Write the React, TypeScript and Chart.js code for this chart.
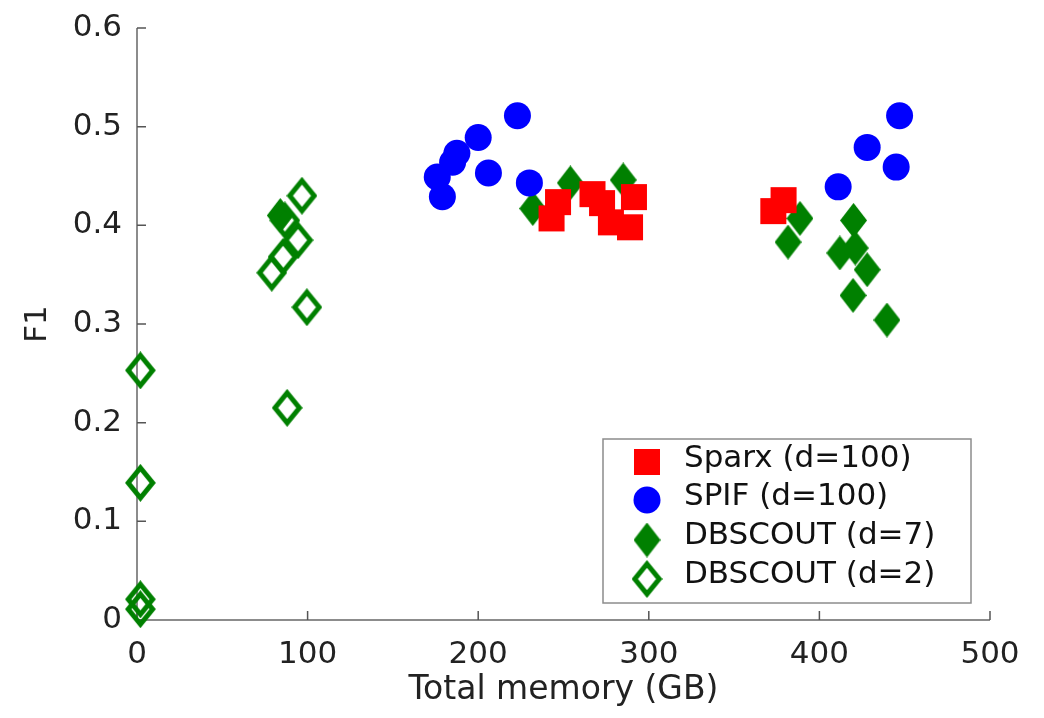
import React, { useEffect, useRef } from "react";
import { Chart, registerables } from "chart.js";

Chart.register(...registerables);

// ---- data ----
const sparxX = [246.8, 243, 267, 272.6, 277.8, 291.3, 289, 379, 373];
const sparxY = [0.4235, 0.407, 0.4316, 0.4225, 0.403, 0.4286, 0.398, 0.4255, 0.4144];

const spifX = [223, 200, 187.5, 185, 176, 179, 206, 230, 447, 428, 445, 411];
const spifY = [0.511, 0.489, 0.473, 0.464, 0.449, 0.429, 0.453, 0.443, 0.511, 0.479, 0.459, 0.439];

const dbs7X = [84, 254, 285, 232, 420, 388.6, 381.6, 412, 421, 428, 419.7, 439.6];
const dbs7Y = [0.41, 0.443, 0.446, 0.417, 0.405, 0.407, 0.383, 0.372, 0.377, 0.355, 0.329, 0.304];

const dbs2X = [96.7, 86.7, 94.4, 85.6, 79, 99.6, 88, 2, 2, 2, 2];
const dbs2Y = [0.43, 0.405, 0.385, 0.368, 0.352, 0.317, 0.215, 0.253, 0.139, 0.021, 0.011];

const seriesLabels = ["Sparx (d=100)", "SPIF (d=100)", "DBSCOUT (d=7)", "DBSCOUT (d=2)"];
const xTicks = [0, 100, 200, 300, 400, 500];
const yTicks = [0, 0.1, 0.2, 0.3, 0.4, 0.5, 0.6];
const xTitle = "Total memory (GB)";
const yTitle = "F1";

const RED = "#ff0000";
const BLUE = "#0000ff";
const GREEN = "#008000";
const FONT = "'DejaVu Sans', 'Liberation Sans', sans-serif";

function makeDiamond(filled: boolean): HTMLCanvasElement {
  const W = filled ? 27 : 31;
  const H = filled ? 35 : 38;
  const c = document.createElement("canvas");
  c.width = W;
  c.height = H;
  const ctx = c.getContext("2d")!;
  if (filled) {
    ctx.beginPath();
    ctx.moveTo(W / 2, 0);
    ctx.lineTo(W, H / 2);
    ctx.lineTo(W / 2, H);
    ctx.lineTo(0, H / 2);
    ctx.closePath();
    ctx.fillStyle = GREEN;
    ctx.fill();
  } else {
    const lw = 5;
    const ix = 3.3;
    const iy = 4;
    ctx.beginPath();
    ctx.moveTo(W / 2, iy);
    ctx.lineTo(W - ix, H / 2);
    ctx.lineTo(W / 2, H - iy);
    ctx.lineTo(ix, H / 2);
    ctx.closePath();
    ctx.lineWidth = lw;
    ctx.lineJoin = "miter";
    ctx.strokeStyle = GREEN;
    ctx.stroke();
  }
  return c;
}

function toPoints(xs: number[], ys: number[]) {
  return xs.map((x, i) => ({ x, y: ys[i] }));
}

export default function App() {
  const ref = useRef<HTMLCanvasElement | null>(null);

  useEffect(() => {
    const canvas = ref.current;
    if (!canvas) return;
    const filledDiamond = makeDiamond(true);
    const openDiamond = makeDiamond(false);

    const axesPlugin = {
      id: "matlabAxes",
      beforeDatasetsDraw(chart: any) {
        const ctx = chart.ctx;
        const xs = chart.scales.x;
        const ys = chart.scales.y;
        const x0 = xs.getPixelForValue(0);
        const y0 = ys.getPixelForValue(0);
        ctx.save();
        ctx.strokeStyle = "#8c8c8c";
        ctx.lineWidth = 2;
        ctx.beginPath();
        ctx.moveTo(x0, ys.getPixelForValue(0.6));
        ctx.lineTo(x0, y0);
        ctx.lineTo(xs.getPixelForValue(500), y0);
        ctx.stroke();
        ctx.lineWidth = 1.5;
        ctx.strokeStyle = "#555";
        const tl = 9;
        ctx.beginPath();
        xTicks.forEach((v) => {
          const px = xs.getPixelForValue(v);
          ctx.moveTo(px, y0);
          ctx.lineTo(px, y0 - tl);
        });
        yTicks.forEach((v) => {
          const py = ys.getPixelForValue(v);
          ctx.moveTo(x0, py);
          ctx.lineTo(x0 + tl, py);
        });
        ctx.stroke();
        ctx.restore();
      },
    };

    const legendPlugin = {
      id: "boxLegend",
      afterDraw(chart: any) {
        const ctx = chart.ctx;
        const left = 603;
        const top = 439;
        const w = 368;
        const h = 164;
        ctx.save();
        ctx.fillStyle = "#ffffff";
        ctx.fillRect(left, top, w, h);
        ctx.strokeStyle = "#8c8c8c";
        ctx.lineWidth = 1.5;
        ctx.strokeRect(left, top, w, h);
        const rows = [459, 497, 536, 575];
        const mx = 647;
        ctx.fillStyle = RED;
        ctx.fillRect(mx - 13, rows[0] - 13 + 3, 26, 26);
        ctx.fillStyle = BLUE;
        ctx.beginPath();
        ctx.arc(mx, rows[1] + 3, 13.5, 0, Math.PI * 2);
        ctx.fill();
        ctx.drawImage(filledDiamond, mx - filledDiamond.width / 2, rows[2] + 4 - filledDiamond.height / 2);
        ctx.drawImage(openDiamond, mx - openDiamond.width / 2, rows[3] + 4 - openDiamond.height / 2);
        ctx.fillStyle = "#111";
        ctx.font = `31px ${FONT}`;
        ctx.textBaseline = "middle";
        ctx.textAlign = "left";
        seriesLabels.forEach((t, i) => ctx.fillText(t, 684, rows[i]));
        ctx.restore();
      },
    };

    const chart = new Chart(canvas, {
      type: "scatter",
      data: {
        datasets: [
          {
            label: seriesLabels[0],
            data: toPoints(sparxX, sparxY),
            pointStyle: "rect",
            pointRadius: 18.4,
            backgroundColor: RED,
            borderColor: RED,
            borderWidth: 0,
            order: 0,
            clip: false as any,
          },
          {
            label: seriesLabels[1],
            data: toPoints(spifX, spifY),
            pointStyle: "circle",
            pointRadius: 13.5,
            backgroundColor: BLUE,
            borderColor: BLUE,
            borderWidth: 0,
            order: 1,
            clip: false as any,
          },
          {
            label: seriesLabels[2],
            data: toPoints(dbs7X, dbs7Y),
            pointStyle: filledDiamond as any,
            pointRadius: 13,
            backgroundColor: GREEN,
            borderColor: GREEN,
            order: 3,
            clip: false as any,
          },
          {
            label: seriesLabels[3],
            data: toPoints(dbs2X, dbs2Y),
            pointStyle: openDiamond as any,
            pointRadius: 13,
            backgroundColor: GREEN,
            borderColor: GREEN,
            order: 2,
            clip: false as any,
          },
        ],
      },
      options: {
        animation: false,
        responsive: false,
        events: [],
        layout: { padding: { left: 0, right: 54, top: 28, bottom: 0 } },
        plugins: {
          legend: { display: false },
          tooltip: { enabled: false },
        },
        scales: {
          x: {
            type: "linear",
            min: 0,
            max: 500,
            afterBuildTicks: (s: any) => {
              s.ticks = xTicks.map((v) => ({ value: v }));
            },
            afterFit: (s: any) => {
              s.height = 98;
            },
            grid: { display: false, drawTicks: false },
            border: { display: false },
            ticks: {
              padding: 16,
              color: "#222",
              font: { family: FONT, size: 31 },
              maxRotation: 0,
              callback: (v: any) => String(v),
            },
            title: {
              display: true,
              text: xTitle,
              color: "#222",
              font: { family: FONT, size: 33, lineHeight: 1.2 },
              padding: { top: 0, bottom: 8 },
            },
          },
          y: {
            type: "linear",
            min: 0,
            max: 0.6,
            afterBuildTicks: (s: any) => {
              s.ticks = yTicks.map((v) => ({ value: v }));
            },
            afterFit: (s: any) => {
              s.width = 137;
            },
            grid: { display: false, drawTicks: false },
            border: { display: false },
            ticks: {
              padding: 15,
              color: "#222",
              font: { family: FONT, size: 31, lineHeight: 0.8 },
              callback: (v: any) => String(Math.round(v * 10) / 10),
            },
            title: {
              display: true,
              text: yTitle,
              color: "#222",
              font: { family: FONT, size: 31, lineHeight: 1.2 },
              padding: { top: 19, bottom: 0 },
            },
          },
        },
      },
      plugins: [axesPlugin, legendPlugin],
    });

    return () => chart.destroy();
  }, []);

  return (
    <div style={{ position: "fixed", left: 0, top: 0, width: 1044, height: 718, background: "#fff" }}>
      <canvas ref={ref} width={1044} height={718} style={{ width: 1044, height: 718, display: "block" }} />
    </div>
  );
}
